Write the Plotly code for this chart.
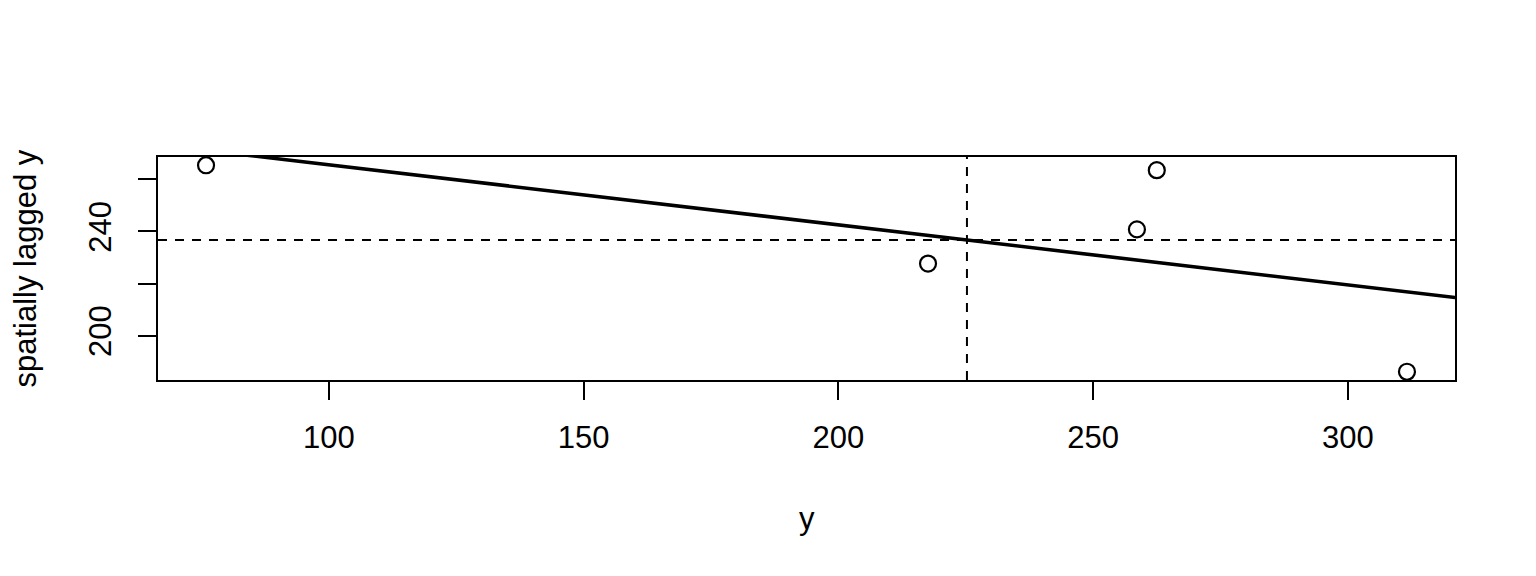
import numpy as np
import plotly.graph_objects as go

# Moran scatter: y vs spatially lagged y
y = [75.9, 217.6, 258.6, 262.5, 311.6]
wy = [265.4, 227.7, 240.8, 263.5, 186.2]

x_ticks = [100, 150, 200, 250, 300]
y_ticks = [200, 220, 240, 260]
y_ticktext = ["200", "", "240", ""]

# R-style 4% axis padding
xr = [min(y) - 0.04 * (max(y) - min(y)), max(y) + 0.04 * (max(y) - min(y))]
yr = [min(wy) - 0.04 * (max(wy) - min(wy)), max(wy) + 0.04 * (max(wy) - min(wy))]

slope, icpt = np.polyfit(y, wy, 1)
lx = np.array([xr[0] - 20, xr[1] + 20])

fig = go.Figure()
fig.add_trace(go.Scatter(x=lx, y=icpt + slope * lx, mode="lines",
                         line=dict(color="black", width=3.6), showlegend=False))
fig.add_trace(go.Scatter(x=y, y=wy, mode="markers",
                         marker=dict(symbol="circle-open", size=16, color="black",
                                     line=dict(width=2.2, color="black")),
                         showlegend=False))

dash = "9px,8px"
fig.add_vline(x=np.mean(y), line=dict(color="black", width=2, dash=dash))
fig.add_hline(y=np.mean(wy), line=dict(color="black", width=2, dash=dash))

font = dict(family="Liberation Sans, Arial, sans-serif", size=31, color="black")

fig.update_layout(
    width=1536, height=576,
    margin=dict(l=150, r=89, t=149, b=204),
    plot_bgcolor="white", paper_bgcolor="white",
    font=font,
    xaxis=dict(range=xr, tickvals=x_ticks, ticks="outside", ticklen=18, tickwidth=2,
               tickcolor="black", showline=True, linecolor="black", linewidth=2,
               mirror=True, showgrid=False, zeroline=False, ticklabelstandoff=11),
    yaxis=dict(range=yr, tickvals=y_ticks, ticktext=y_ticktext, ticks="outside",
               ticklen=18, tickwidth=2, tickcolor="black", tickangle=-90,
               showline=True, linecolor="black", linewidth=2, mirror=True,
               showgrid=False, zeroline=False, ticklabelstandoff=15),
    annotations=[
        dict(text="y", xref="paper", yref="paper", x=0.5, y=0, yshift=-138,
             xanchor="center", yanchor="middle", showarrow=False, font=font),
        dict(text="spatially lagged y", xref="paper", yref="paper", x=0, y=0.5,
             xshift=-133, xanchor="center", yanchor="middle", textangle=-90,
             showarrow=False, font=font),
    ],
)

fig.write_html("out.html")
